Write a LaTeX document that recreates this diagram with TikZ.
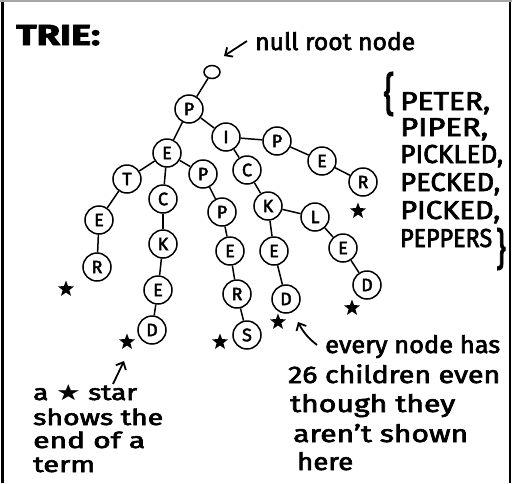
\documentclass[tikz,border=0pt]{standalone}
\usepackage{fontspec}
\usepackage{graphicx}
\setmainfont{Fira Sans}[FakeBold=2.5]
\newfontfamily\symfont{DejaVu Sans}
\usetikzlibrary{shapes.geometric,arrows.meta}
\newcommand{\hw}[2]{\resizebox{#1}{\height}{#2}}
\begin{document}
\begin{tikzpicture}[x=1pt,y=-1pt,
  tnode/.style={draw,circle,line width=1.5pt,minimum size=28pt,inner sep=0pt,font=\fontsize{18}{18}\selectfont},
  edge/.style={line width=1.5pt},
  endstar/.style={star,star points=5,star point ratio=2.4,fill=black,minimum size=17pt,inner sep=0pt},
  hand/.style={anchor=base west,inner sep=0pt,font=\fontsize{24}{24}\selectfont},
  note/.style={anchor=base west,inner sep=0pt,font=\fontsize{22}{22}\selectfont},
  setline/.style={anchor=base west,inner sep=0pt,font=\fontsize{26}{26}\selectfont},
  handarrow/.style={line width=1.8pt,-{Straight Barb[length=6pt,width=11pt]}},
]
\useasboundingbox (0,0) rectangle (512,483);
\fill[white] (0,0) rectangle (512,483);
\draw[line width=3pt] (2,0) -- (2,483);
\draw[line width=2pt] (510,0) -- (510,483);
\draw[black!35,line width=1.5pt] (0,1) -- (512,1);

% title
\node[anchor=base west,inner sep=0pt,font=\fontsize{29}{29}\selectfont\bfseries] (title) at (16,45) {\hw{84pt}{TRIE:}};

% trie nodes
\node[draw,ellipse,line width=1.5pt,minimum width=16pt,minimum height=13pt,inner sep=0pt] (root) at (212,72) {};
\node[tnode] (p1) at (189,109) {P};
\node[tnode] (i1) at (226,137) {I};
\node[tnode] (p2) at (277,141) {P};
\node[tnode] (e2) at (322,161) {E};
\node[tnode] (r2) at (363,182) {R};
\node[tnode] (e1) at (167,153) {E};
\node[tnode] (t1) at (127,179) {T};
\node[tnode] (e3) at (99,220) {E};
\node[tnode] (r1) at (97,267) {R};
\node[tnode] (c1) at (163,199) {C};
\node[tnode] (k1) at (163,244) {K};
\node[tnode] (e4) at (158,290) {E};
\node[tnode] (d1) at (152,330) {D};
\node[tnode] (pp1) at (203,174) {P};
\node[tnode] (pp2) at (222,212) {P};
\node[tnode] (e5) at (230,251) {E};
\node[tnode] (r3) at (237,294) {R};
\node[tnode] (s1) at (247,335) {S};
\node[tnode] (c2) at (247,170) {C};
\node[tnode] (k2) at (268,206) {K};
\node[tnode] (e6) at (274,251) {E};
\node[tnode] (d2) at (286,299) {D};
\node[tnode] (l1) at (315,217) {L};
\node[tnode] (e7) at (343,248) {E};
\node[tnode] (d3) at (367,285) {D};

% edges
\draw[edge] (root) -- (p1);
\draw[edge] (p1) -- (e1);
\draw[edge] (p1) -- (i1);
\draw[edge] (i1) -- (p2);
\draw[edge] (p2) -- (e2);
\draw[edge] (e2) -- (r2);
\draw[edge] (e1) -- (t1);
\draw[edge] (t1) -- (e3);
\draw[edge] (e3) -- (r1);
\draw[edge] (e1) -- (c1);
\draw[edge] (c1) -- (k1);
\draw[edge] (k1) -- (e4);
\draw[edge] (e4) -- (d1);
\draw[edge] (e1) -- (pp1);
\draw[edge] (pp1) -- (pp2);
\draw[edge] (pp2) -- (e5);
\draw[edge] (e5) -- (r3);
\draw[edge] (r3) -- (s1);
\draw[edge] (i1) -- (c2);
\draw[edge] (c2) -- (k2);
\draw[edge] (k2) -- (e6);
\draw[edge] (e6) -- (d2);
\draw[edge] (k2) -- (l1);
\draw[edge] (l1) -- (e7);
\draw[edge] (e7) -- (d3);

% end-of-term stars
\node[endstar] (s_r1) at (66,289) {};
\node[endstar] (s_d1) at (127,342) {};
\node[endstar] (s_s1) at (220,342) {};
\node[endstar] (s_d2) at (278,322) {};
\node[endstar] (s_d3) at (352,308) {};
\node[endstar] (s_r2) at (358,211) {};

% null root note
\node[hand] (nulltxt) at (255,50) {\hw{160pt}{null root node}};
\coordinate (nulltail) at (247,41);
\coordinate (nullhead) at (224,56);
\draw[handarrow] (nulltail) -- (nullhead);

% word set
\node[anchor=center,inner sep=0pt] (lbrace) at (389,94) {\resizebox*{11pt}{44pt}{\fontsize{26}{26}\selectfont\{}};
\node[setline] (w1) at (400,110) {\hw{90pt}{PETER,}};
\node[setline] (w2) at (400,136) {\hw{88pt}{PIPER,}};
\node[setline] (w3) at (400,163) {\hw{103pt}{PICKLED,}};
\node[setline] (w4) at (400,191) {\hw{100pt}{PECKED,}};
\node[setline] (w5) at (400,219) {\hw{100pt}{PICKED,}};
\node[setline] (w6) at (400,247) {\hw{92pt}{PEPPERS}};
\node[anchor=center,inner sep=0pt] (rbrace) at (501,249) {\resizebox*{10pt}{42pt}{\fontsize{26}{26}\selectfont\}}};

% left note
\node[note] (n1) at (33,400) {\hw{104pt}{a {\symfont ★} star}};
\node[note] (n2) at (33,425) {\hw{130pt}{shows the}};
\node[note] (n3) at (33,448) {\hw{112pt}{end of a}};
\node[note] (n4) at (33,472) {\hw{62pt}{term}};
\coordinate (startail) at (113,384);
\coordinate (starhead) at (124,361);
\draw[handarrow] (startail) -- (starhead);

% right note
\node[hand] (m1) at (325,353) {\hw{175pt}{every node has}};
\node[hand] (m2) at (288,383) {\hw{212pt}{26 children even}};
\node[hand] (m3) at (290,412) {\hw{165pt}{though they}};
\node[hand] (m4) at (293,442) {\hw{175pt}{aren't shown}};
\node[hand] (m5) at (297,470) {\hw{56pt}{here}};
\coordinate (everytail) at (317,345);
\coordinate (everyhead) at (298,322);
\draw[handarrow] (everytail) to[bend left=12] (everyhead);
\end{tikzpicture}
\end{document}
